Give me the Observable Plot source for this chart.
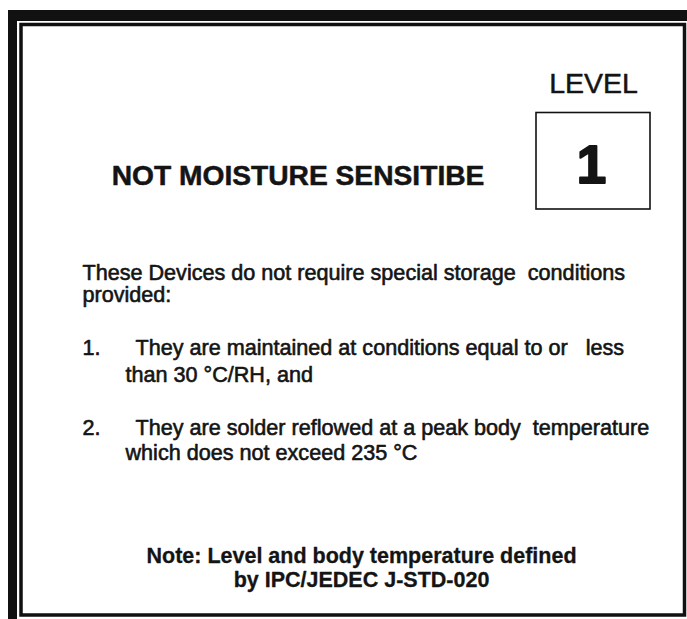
<!DOCTYPE html>
<html><head><meta charset="utf-8">
<script src="https://cdn.jsdelivr.net/npm/d3@7"></script>
<script src="https://cdn.jsdelivr.net/npm/@observablehq/plot@0.6"></script>
<style>
html,body{margin:0;padding:0;background:#fff}
svg text{white-space:pre}
</style>
</head><body><div id="chart"></div>
<script>
// ---- content ----
const levelLabel = ["LEVEL"];
const levelValue = ["1"];
const titleText = ["NOT MOISTURE SENSITIBE"];
const introLines = ["These Devices do not require special storage  conditions", "provided:"];
const itemNumbers = ["1.", "2."];
const itemFirstLines = ["They are maintained at conditions equal to or   less", "They are solder reflowed at a peak body  temperature"];
const itemSecondLines = ["than 30 °C/RH, and", "which does not exceed 235 °C"];
const noteLines = ["Note: Level and body temperature defined", "by IPC/JEDEC J-STD-020"];

// ---- layout (page coordinates) ----
const W = 687, H = 619;
const font = "Liberation Sans, Arial, Helvetica, sans-serif";
const ink = "#141414";
const introY = [279, 301];
const itemY = [354, 434];
const itemY2 = [381, 459];
const noteY = [562, 586];

const introData = introLines.map((t, i) => ({t, x: 82, y: introY[i]}));
const numData = itemNumbers.map((t, i) => ({t, x: 82, y: itemY[i]}));
const firstData = itemFirstLines.map((t, i) => ({t, x: 135, y: itemY[i]}));
const secondData = itemSecondLines.map((t, i) => ({t, x: 125, y: itemY2[i]}));
const noteData = noteLines.map((t, i) => ({t, x: 361, y: noteY[i]}));

const bodyText = (data) => Plot.text(data, {
  x: "x", y: "y", text: "t", textAnchor: "start", lineAnchor: "bottom",
  fontFamily: font, fontSize: 21.6, fill: ink, stroke: ink, strokeWidth: 0.6
});

const chart = Plot.plot({
  width: W, height: H,
  margin: 0,
  x: {domain: [0, W], range: [0, W], axis: null},
  y: {domain: [0, H], range: [0, H], axis: null},
  style: {background: "#fff"},
  marks: [
    // outer thick frame (top and left bands)
    Plot.rect([{x1: 8, x2: W, y1: 10, y2: 21}], {x1: "x1", x2: "x2", y1: "y1", y2: "y2", fill: "#111", inset: 0}),
    Plot.rect([{x1: 8, x2: 17, y1: 10, y2: H}], {x1: "x1", x2: "x2", y1: "y1", y2: "y2", fill: "#111", inset: 0}),
    // inner thin frame
    Plot.rect([{x1: 21, x2: 684.5, y1: 24.5, y2: 615}], {x1: "x1", x2: "x2", y1: "y1", y2: "y2", fill: "none", stroke: "#111", strokeWidth: 3.5, inset: 0}),
    // level box
    Plot.rect([{x1: 536, x2: 650, y1: 112.5, y2: 209}], {x1: "x1", x2: "x2", y1: "y1", y2: "y2", fill: "none", stroke: "#111", strokeWidth: 1.6, inset: 0}),
    Plot.text(levelLabel, {x: () => 593, y: () => 92, text: d => d, textAnchor: "middle", lineAnchor: "bottom", fontFamily: font, fontSize: 28.5, fill: ink, stroke: ink, strokeWidth: 0.5}),
    Plot.text(levelValue, {x: () => 591, y: () => 182, text: d => d, textAnchor: "middle", lineAnchor: "bottom", fontFamily: font, fontSize: 53, fontWeight: "bold", fill: ink, stroke: ink, strokeWidth: 2}),
    Plot.text(titleText, {x: () => 297.5, y: () => 184, text: d => d, textAnchor: "middle", lineAnchor: "bottom", fontFamily: font, fontSize: 28.2, fontWeight: "bold", fill: ink, stroke: ink, strokeWidth: 0.5}),
    bodyText(introData),
    bodyText(numData),
    bodyText(firstData),
    bodyText(secondData),
    Plot.text(noteData, {x: "x", y: "y", text: "t", textAnchor: "middle", lineAnchor: "bottom", fontFamily: font, fontSize: 21.5, fontWeight: "bold", fill: ink, stroke: ink, strokeWidth: 0.3})
  ]
});
document.getElementById("chart").appendChild(chart);
</script>
</body></html>
